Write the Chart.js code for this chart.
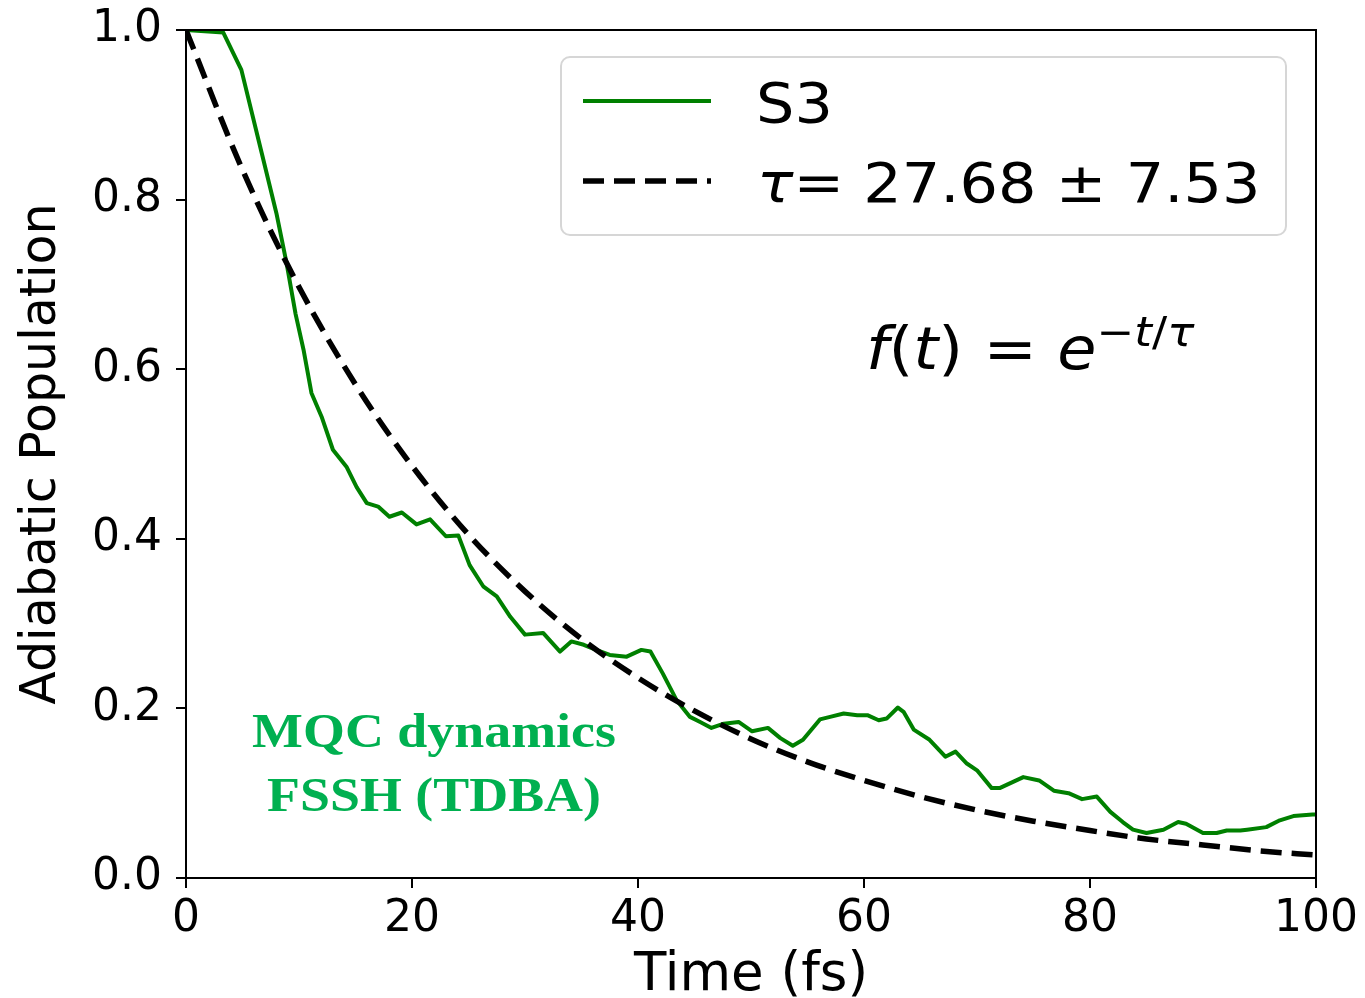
<!DOCTYPE html>
<html><head><meta charset="utf-8">
<script src="https://cdn.jsdelivr.net/npm/chart.js@4.4.0/dist/chart.umd.min.js"></script>
<style>html,body{margin:0;padding:0;background:#fff;}canvas{display:block;}</style>
</head><body>
<canvas id="c" width="1365" height="998"></canvas>
<script>
// ---- data ----
const timeS3 = [0,3.3,4.9,6.7,8.0,8.9,9.7,10.4,11.1,12.0,13.0,14.2,15.1,16.0,17.0,18.0,19.1,20.4,21.6,23.0,24.1,25.1,26.3,27.5,28.7,30.0,31.6,33.1,34.1,35.2,36.3,37.5,39.0,40.3,41.1,42.2,43.4,44.6,45.5,46.5,47.6,48.9,50.1,51.5,52.6,53.7,54.6,56.1,57.0,58.2,59.4,60.3,61.3,62.0,63.0,63.5,64.4,65.8,67.2,68.1,69.1,70.0,71.3,72.0,74.1,75.5,76.8,78.1,79.3,80.6,81.8,82.9,83.8,85.0,86.5,87.8,88.5,90.0,91.2,92.1,93.3,93.9,95.6,96.8,98.0,99.7,100];
const popS3 = [1.000,0.997,0.953,0.855,0.784,0.725,0.665,0.623,0.572,0.544,0.505,0.485,0.461,0.442,0.438,0.426,0.431,0.417,0.423,0.403,0.404,0.369,0.344,0.332,0.308,0.287,0.289,0.267,0.279,0.275,0.269,0.263,0.261,0.269,0.267,0.241,0.210,0.190,0.184,0.177,0.182,0.184,0.173,0.177,0.165,0.156,0.163,0.187,0.190,0.194,0.192,0.192,0.186,0.188,0.201,0.196,0.175,0.163,0.143,0.149,0.135,0.127,0.106,0.106,0.119,0.115,0.103,0.100,0.093,0.096,0.078,0.066,0.057,0.053,0.057,0.066,0.064,0.053,0.053,0.056,0.056,0.057,0.060,0.068,0.073,0.075,0.075];
const timeFit = [0,5,10,15,20,25,30,35,40,45,50,55,60,65,70,75,80,85,90,95,100];
const popFit = [1.000,0.835,0.697,0.582,0.486,0.405,0.338,0.282,0.236,0.197,0.164,0.137,0.115,0.096,0.080,0.067,0.056,0.046,0.039,0.032,0.027];
const xTicks = [0,20,40,60,80,100];
const yTicks = [0.0,0.2,0.4,0.6,0.8,1.0];
const seriesNames = ['S3','τ','= 27.68 ± 7.53'];
const annotationLines = ['MQC dynamics','FSSH (TDBA)'];

const FAM = '"DejaVu Sans", sans-serif';
const S3_COLOR = '#008000';
const SX = 1.1; // horizontal widening of the reference's lettering

function stretchedText(ctx, parts, x0, base) {
  ctx.save();
  ctx.translate(x0, 0);
  ctx.scale(SX, 1);
  let x = 0;
  for (const [s, font, dy] of parts) {
    ctx.font = font;
    ctx.fillText(s, x, base + dy);
    x += ctx.measureText(s).width;
  }
  ctx.restore();
}

const frameAndText = {
  id: 'frameAndText',
  afterDraw(chart) {
    const ctx = chart.ctx, a = chart.chartArea;
    ctx.save();
    // top & right spines
    ctx.strokeStyle = '#000'; ctx.lineWidth = 2;
    ctx.beginPath();
    ctx.moveTo(a.left - 1, a.top); ctx.lineTo(a.right, a.top); ctx.lineTo(a.right, a.bottom + 1);
    ctx.stroke();

    // legend box
    const bx = 561, by = 57, bw = 725, bh = 178, r = 9;
    ctx.beginPath();
    ctx.moveTo(bx + r, by); ctx.lineTo(bx + bw - r, by); ctx.arcTo(bx + bw, by, bx + bw, by + r, r);
    ctx.lineTo(bx + bw, by + bh - r); ctx.arcTo(bx + bw, by + bh, bx + bw - r, by + bh, r);
    ctx.lineTo(bx + r, by + bh); ctx.arcTo(bx, by + bh, bx, by + bh - r, r);
    ctx.lineTo(bx, by + r); ctx.arcTo(bx, by, bx + r, by, r); ctx.closePath();
    ctx.fillStyle = 'rgba(255,255,255,0.8)'; ctx.fill();
    ctx.strokeStyle = '#d6d6d6'; ctx.lineWidth = 2; ctx.stroke();

    const ds = chart.data.datasets;
    ctx.strokeStyle = ds[0].borderColor; ctx.lineWidth = ds[0].borderWidth; ctx.setLineDash([]);
    ctx.lineCap = 'butt';
    ctx.beginPath(); ctx.moveTo(583, 101); ctx.lineTo(711, 101); ctx.stroke();
    ctx.strokeStyle = ds[1].borderColor; ctx.lineWidth = ds[1].borderWidth; ctx.setLineDash(ds[1].borderDash);
    ctx.beginPath(); ctx.moveTo(583, 181); ctx.lineTo(711, 181); ctx.stroke();
    ctx.setLineDash([]);

    ctx.fillStyle = '#000'; ctx.textBaseline = 'alphabetic'; ctx.textAlign = 'left';
    const F55 = '55px ' + FAM, I55 = 'italic 55px ' + FAM;
    stretchedText(ctx, [[seriesNames[0], F55, 0]], 756, 122);
    stretchedText(ctx, [[seriesNames[1], I55, 0], [seriesNames[2], F55, 0]], 757, 202);

    // formula f(t) = e^{-t/tau}
    const FN = '58px ' + FAM, FI = 'italic 58px ' + FAM;
    const EN = '41px ' + FAM, EI = 'italic 41px ' + FAM;
    stretchedText(ctx, [
      ['f', FI, 0], ['(', FN, 0], ['t', FI, 0], [')', FN, 0], [' = ', FN, 0], ['e', FI, 0],
      ['\u2212', EN, -23], ['t', EI, -23], ['/', EN, -23], ['τ', EI, -23]
    ], 866, 369);

    // green annotation (centered)
    ctx.fillStyle = '#00b050';
    const GF = 'bold 49px "Liberation Serif", "Times New Roman", serif';
    ctx.font = GF;
    for (const [i, base] of [[0, 746.5], [1, 810.5]]) {
      const w = ctx.measureText(annotationLines[i]).width * SX;
      stretchedText(ctx, [[annotationLines[i], GF, 0]], 434 - w / 2, base);
    }
    ctx.restore();
  }
};

new Chart(document.getElementById('c'), {
  type: 'line',
  data: {
    datasets: [
      {
        label: seriesNames[0],
        data: timeS3.map((t, i) => ({x: t, y: popS3[i]})),
        borderColor: S3_COLOR, borderWidth: 4, pointRadius: 0, tension: 0,
        borderJoinStyle: 'round', borderCapStyle: 'round', order: 2
      },
      {
        label: seriesNames[1] + seriesNames[2],
        data: timeFit.map((t, i) => ({x: t, y: popFit[i]})),
        borderColor: '#000', borderWidth: 5.5, borderDash: [21, 10], pointRadius: 0,
        cubicInterpolationMode: 'monotone', borderCapStyle: 'butt', order: 1
      }
    ]
  },
  options: {
    responsive: false, animation: false, devicePixelRatio: 1,
    layout: {autoPadding: false, padding: {left: 0, right: 49, top: 30, bottom: 0}},
    plugins: {legend: {display: false}, tooltip: {enabled: false}},
    scales: {
      x: {
        type: 'linear', min: 0, max: 100,
        afterBuildTicks: s => { s.ticks = xTicks.map(v => ({value: v})); },
        ticks: {font: {family: FAM, size: 44}, color: '#000', padding: 5, maxRotation: 0, autoSkip: false,
                callback: v => String(v)},
        grid: {drawOnChartArea: false, drawTicks: true, tickLength: 10, color: '#000', lineWidth: 2},
        border: {display: true, color: '#000', width: 2},
        title: {display: true, text: 'Time (fs)', color: '#000', font: {family: FAM, size: 53}, padding: {top: 0, bottom: -10}},
        afterFit: s => { s.height = 120; s.paddingLeft = 0; s.paddingRight = 0; }
      },
      y: {
        type: 'linear', min: 0, max: 1,
        afterBuildTicks: s => { s.ticks = yTicks.map(v => ({value: v})); },
        ticks: {font: {family: FAM, size: 44}, color: '#000', padding: 14, autoSkip: false,
                callback: v => Number(v).toFixed(1)},
        grid: {drawOnChartArea: false, drawTicks: true, tickLength: 10, color: '#000', lineWidth: 2},
        border: {display: true, color: '#000', width: 2},
        title: {display: true, text: 'Adiabatic Population', color: '#000', font: {family: FAM, size: 49}, padding: {top: 13, bottom: 0}},
        afterFit: s => { s.width = 186; s.paddingTop = 0; s.paddingBottom = 0; }
      }
    }
  },
  plugins: [frameAndText]
});
</script>
</body></html>
